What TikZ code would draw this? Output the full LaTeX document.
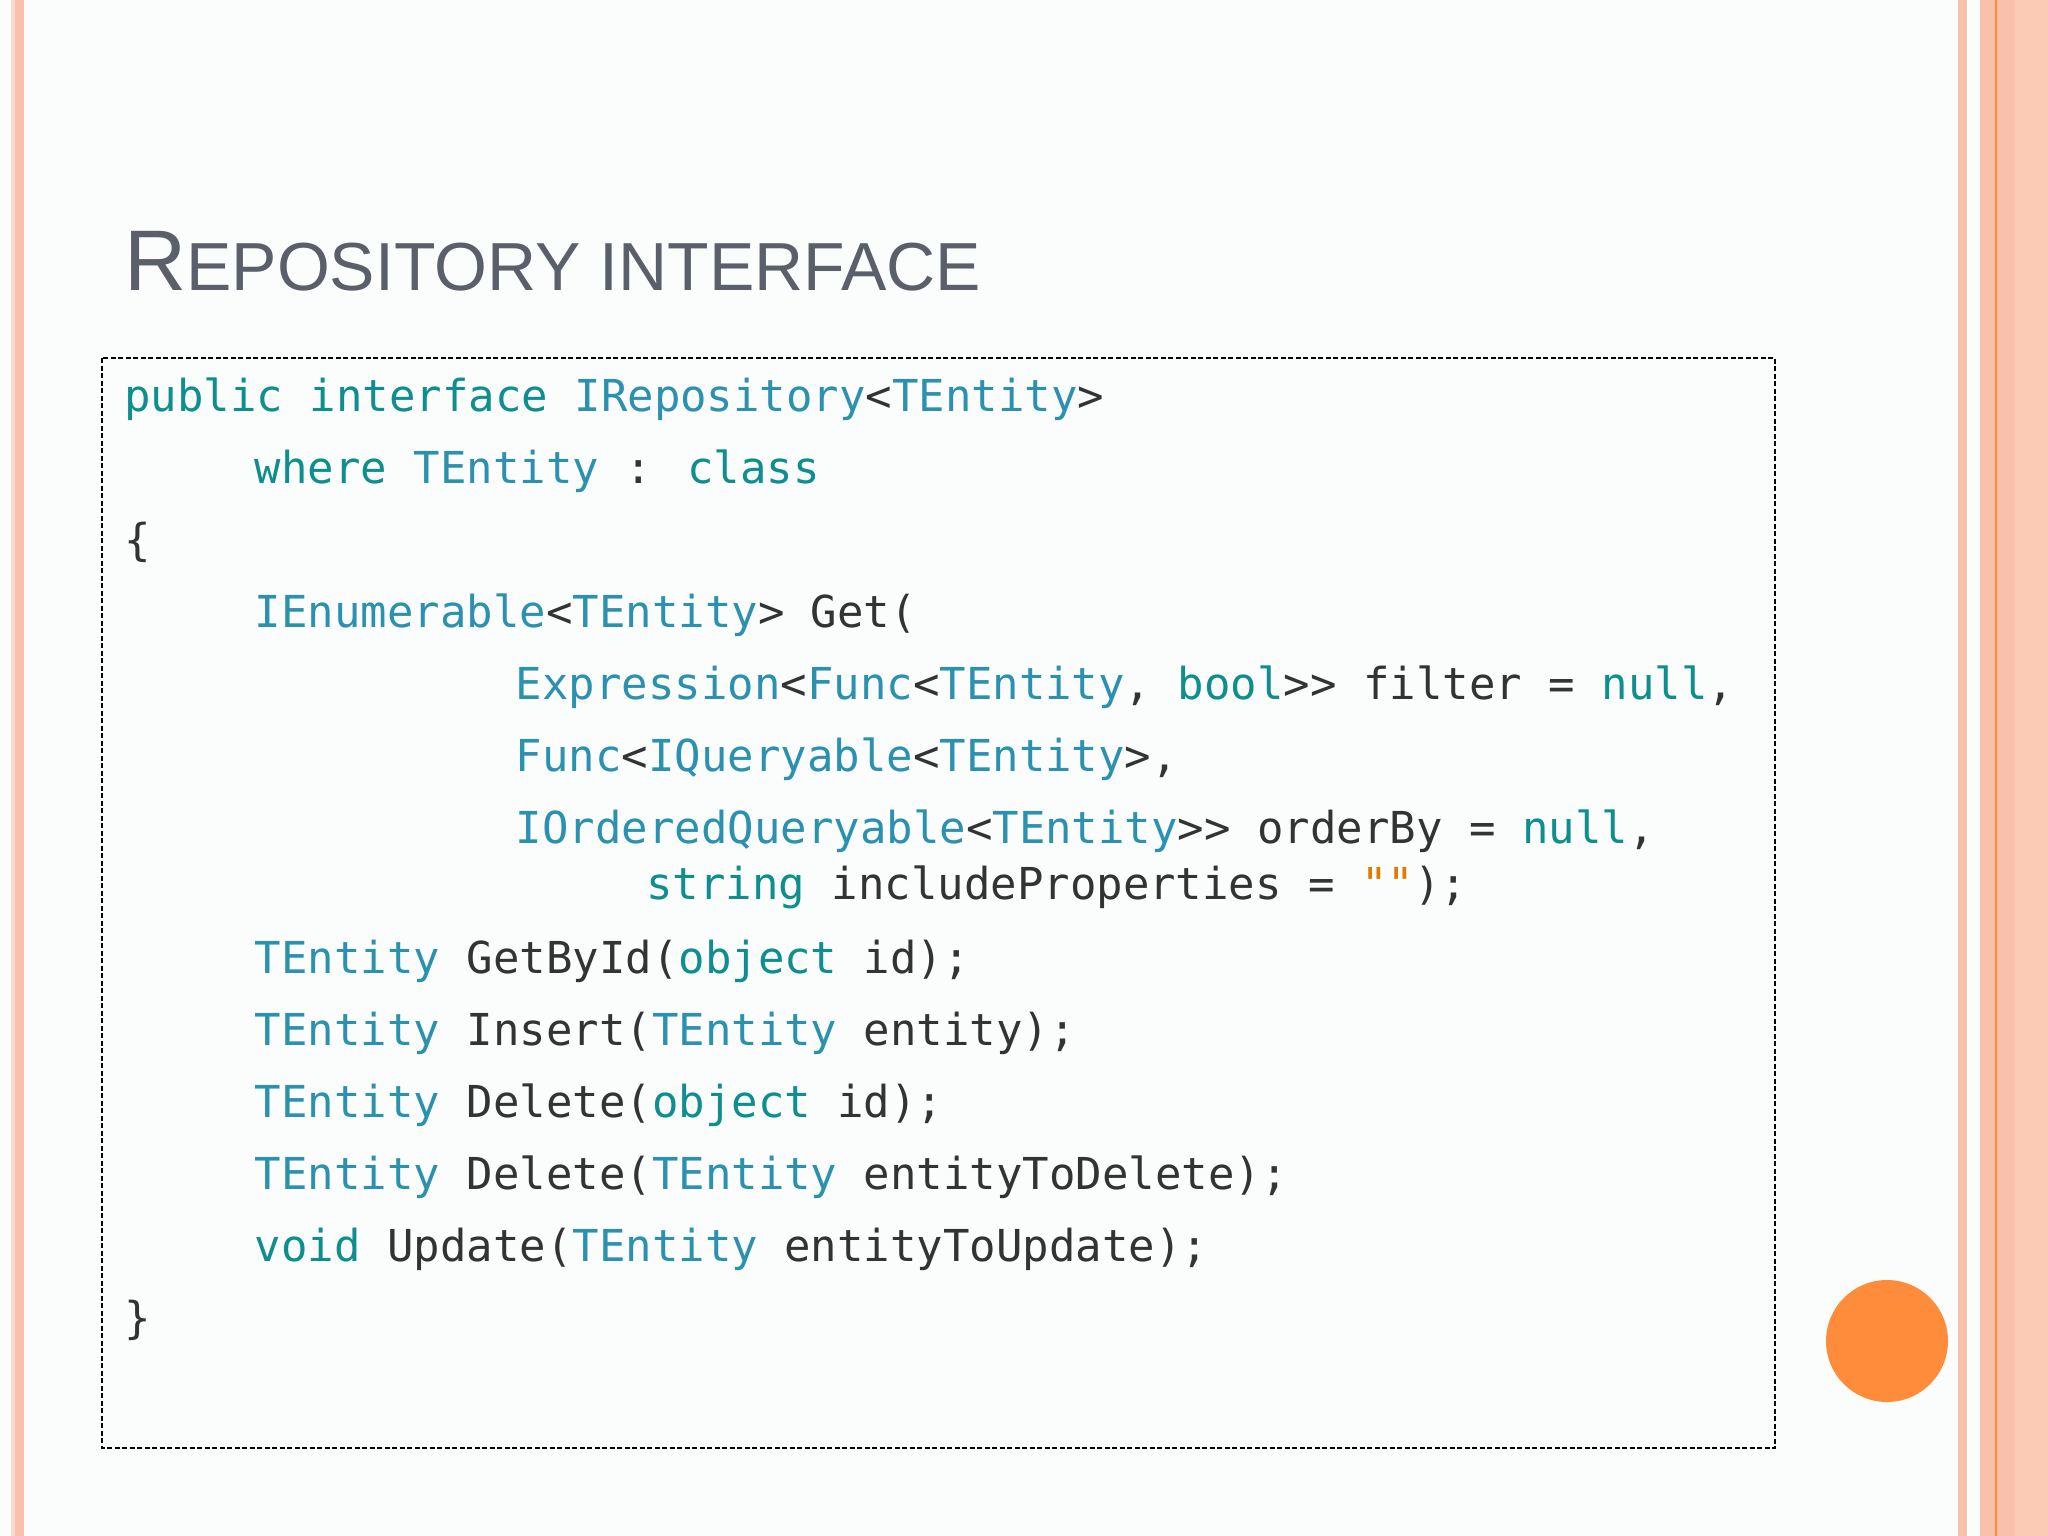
\documentclass[tikz,border=0pt]{standalone}
\usepackage{fontspec}
\setmainfont{Liberation Sans}
\newfontfamily\codefont{DejaVu Sans Mono}
\definecolor{bg}{HTML}{FBFDFD}
\definecolor{kwc}{HTML}{0E8E8E}
\definecolor{tyc}{HTML}{2B91AF}
\definecolor{txc}{HTML}{333333}
\definecolor{stc}{HTML}{E07B00}
\definecolor{ttl}{HTML}{5A5F6A}
\definecolor{sal}{HTML}{F9C0AC}
\definecolor{peach}{HTML}{FBCBB6}
\definecolor{org}{HTML}{FF8C3A}
\newcommand{\Kw}[1]{\textcolor{kwc}{#1}}
\newcommand{\Ty}[1]{\textcolor{tyc}{#1}}
\newcommand{\Sx}[1]{\textcolor{stc}{#1}}
\tikzset{codeline/.style={anchor=base west,inner sep=0pt,text=txc,font=\codefont\fontsize{44}{50}\selectfont}}
\begin{document}
\begin{tikzpicture}[x=1pt,y=-1pt]
\fill[bg] (0,0) rectangle (2048,1536);
\useasboundingbox (0,0) rectangle (2048,1536);
% left stripes
\fill[sal!60] (11,0) rectangle (15,1536);
\fill[sal] (15,0) rectangle (24,1536);
% right stripes
\fill[sal] (1958,0) rectangle (1967,1536);
\fill[sal] (1980,0) rectangle (2048,1536);
\fill[peach] (2015,0) rectangle (2048,1536);
\draw[org,line width=2pt] (1996,0) -- (1996,1536);
% title
\node[anchor=base west,inner sep=0pt,text=ttl] (title) at (124,290)
  {\fontsize{86}{90}\selectfont R\fontsize{68}{70}\selectfont EPOSITORY INTERFACE};
% box
\draw[line width=1.3pt,dash pattern=on 5pt off 2.5pt] (102,358) rectangle (1775,1448);
\def\cw{26.1}
\node[codeline] (l1) at (124,411) {\Kw{public interface} \Ty{IRepository}<\Ty{TEntity}>};
\node[codeline] (l2) at (124+5*\cw,483) {\Kw{where} \Ty{TEntity} : \Kw{class}};
\node[codeline] (l3) at (124,555) {\{};
\node[codeline] (l4) at (124+5*\cw,627) {\Ty{IEnumerable}<\Ty{TEntity}> Get(};
\node[codeline] (l5) at (124+15*\cw,699) {\Ty{Expression}<\Ty{Func}<\Ty{TEntity}, \Kw{bool}>{}> filter = \Kw{null},};
\node[codeline] (l6) at (124+15*\cw,771) {\Ty{Func}<\Ty{IQueryable}<\Ty{TEntity}>,};
\node[codeline] (l7) at (124+15*\cw,843) {\Ty{IOrderedQueryable}<\Ty{TEntity}>{}> orderBy = \Kw{null},};
\node[codeline] (l8) at (124+20*\cw,899) {\Kw{string} includeProperties = \Sx{""});};
\node[codeline] (l9) at (124+5*\cw,973) {\Ty{TEntity} GetById(\Kw{object} id);};
\node[codeline] (l10) at (124+5*\cw,1045) {\Ty{TEntity} Insert(\Ty{TEntity} entity);};
\node[codeline] (l11) at (124+5*\cw,1117) {\Ty{TEntity} Delete(\Kw{object} id);};
\node[codeline] (l12) at (124+5*\cw,1189) {\Ty{TEntity} Delete(\Ty{TEntity} entityToDelete);};
\node[codeline] (l13) at (124+5*\cw,1261) {\Kw{void} Update(\Ty{TEntity} entityToUpdate);};
\node[codeline] (l14) at (124,1333) {\}};
% circle
\fill[org] (1887,1341) circle (61);
\end{tikzpicture}
\end{document}
